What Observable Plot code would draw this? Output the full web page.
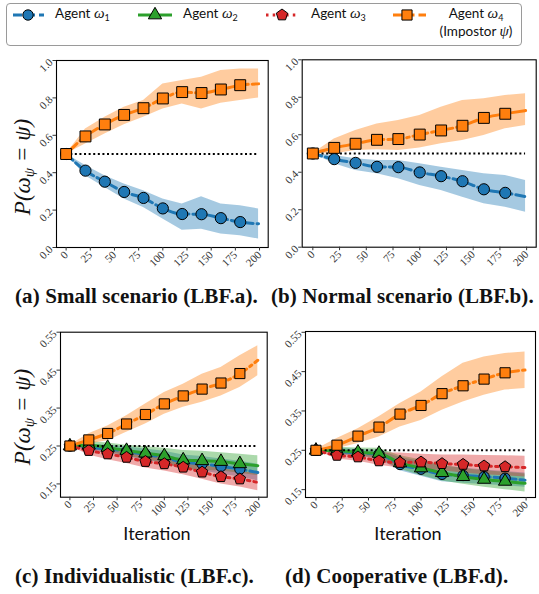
<!DOCTYPE html>
<html><head><meta charset="utf-8">
<script src="https://cdn.jsdelivr.net/npm/d3@7"></script>
<script src="https://cdn.jsdelivr.net/npm/@observablehq/plot@0.6"></script>
<style>
html,body{margin:0;padding:0;background:#fff;}
#fig{position:relative;width:539px;height:594px;overflow:hidden;background:#fff;}
.panel{position:absolute;}
.panel svg{display:block;overflow:visible;}
.cap{position:absolute;font-family:"Liberation Serif",serif;font-weight:bold;font-size:21px;letter-spacing:0.1px;line-height:22px;white-space:nowrap;color:#111;}
.xlab{position:absolute;font-family:"Lato",sans-serif;font-size:18px;line-height:18px;white-space:nowrap;transform:translate(-50%,-50%);color:#111;}
.ylab{position:absolute;font-family:"Liberation Serif",serif;font-style:italic;font-size:23px;line-height:23px;white-space:nowrap;transform:translate(-50%,-50%) rotate(-90deg);color:#111;}
.ylab sub{font-size:15px;vertical-align:-4px;line-height:0;}
#legend{position:absolute;left:6px;top:3px;width:514px;height:41px;border:1.2px solid #9a9a9a;border-radius:4px;}
#legend svg{position:absolute;left:-7px;top:-4px;}
.lt{position:absolute;font-family:"Lato",sans-serif;font-size:13.5px;line-height:13px;white-space:nowrap;color:#111;}
.lt i{font-family:"Liberation Serif",serif;font-size:15px;}
.lt sub{font-size:9px;vertical-align:-3px;line-height:0;}
</style>
</head><body>
<div id="fig"></div>
<script>
// ---------------- data ----------------
const iterations = [0, 20, 40, 60, 80, 100, 120, 140, 160, 180, 199];
const xTicks = [0, 25, 50, 75, 100, 125, 150, 175, 200];
const yTicksAB = [0, 0.2, 0.4, 0.6, 0.8, 1.0];
const yTicksCD = [0.15, 0.25, 0.35, 0.45, 0.55];
const chance = [0.5, 0.5, 0.25, 0.25];

const captions = ["(a) Small scenario (LBF.a).", "(b) Normal scenario (LBF.b).", "(c) Individualistic (LBF.c).", "(d) Cooperative (LBF.d)."];

// (a) Small scenario
const a_w1_mean = [0.50, 0.411, 0.352, 0.297, 0.265, 0.209, 0.179, 0.178, 0.157, 0.136, 0.127];
const a_w1_lo   = [0.50, 0.384, 0.321, 0.259, 0.214, 0.152, 0.092, 0.098, 0.072, 0.063, 0.045];
const a_w1_hi   = [0.50, 0.438, 0.384, 0.340, 0.304, 0.259, 0.232, 0.272, 0.232, 0.223, 0.206];
const a_w4_mean = [0.50, 0.594, 0.658, 0.709, 0.745, 0.797, 0.831, 0.826, 0.845, 0.868, 0.875];
const a_w4_lo   = [0.50, 0.554, 0.607, 0.657, 0.696, 0.741, 0.768, 0.740, 0.771, 0.786, 0.800];
const a_w4_hi   = [0.50, 0.634, 0.696, 0.750, 0.786, 0.875, 0.893, 0.911, 0.946, 0.955, 0.955];

// (b) Normal scenario
const b_w1_mean = [0.50, 0.470, 0.450, 0.429, 0.427, 0.399, 0.379, 0.352, 0.309, 0.290, 0.270];
const b_w1_lo   = [0.50, 0.445, 0.409, 0.392, 0.365, 0.329, 0.303, 0.267, 0.232, 0.213, 0.187];
const b_w1_hi   = [0.50, 0.489, 0.472, 0.463, 0.463, 0.445, 0.427, 0.409, 0.392, 0.383, 0.356];
const b_w4_mean = [0.50, 0.530, 0.552, 0.573, 0.577, 0.601, 0.623, 0.648, 0.690, 0.712, 0.729];
const b_w4_lo   = [0.50, 0.498, 0.516, 0.520, 0.516, 0.530, 0.552, 0.569, 0.596, 0.632, 0.649];
const b_w4_hi   = [0.50, 0.578, 0.623, 0.658, 0.676, 0.703, 0.747, 0.783, 0.792, 0.809, 0.819];

// (c) Individualistic
const c_w1_mean = [0.25, 0.246, 0.242, 0.236, 0.227, 0.220, 0.207, 0.203, 0.196, 0.189, 0.180];
const c_w1_lo   = [0.25, 0.238, 0.230, 0.222, 0.212, 0.204, 0.188, 0.184, 0.176, 0.168, 0.158];
const c_w1_hi   = [0.25, 0.255, 0.252, 0.248, 0.242, 0.236, 0.226, 0.222, 0.216, 0.210, 0.202];
const c_w2_mean = [0.25, 0.252, 0.246, 0.238, 0.231, 0.224, 0.213, 0.211, 0.209, 0.203, 0.198];
const c_w2_lo   = [0.25, 0.242, 0.234, 0.224, 0.214, 0.205, 0.190, 0.186, 0.184, 0.178, 0.172];
const c_w2_hi   = [0.25, 0.262, 0.258, 0.252, 0.248, 0.244, 0.238, 0.236, 0.232, 0.228, 0.224];
const c_w3_mean = [0.25, 0.238, 0.229, 0.220, 0.209, 0.203, 0.194, 0.181, 0.169, 0.163, 0.154];
const c_w3_lo   = [0.25, 0.226, 0.214, 0.204, 0.192, 0.184, 0.174, 0.162, 0.150, 0.142, 0.132];
const c_w3_hi   = [0.25, 0.248, 0.242, 0.234, 0.226, 0.220, 0.212, 0.200, 0.190, 0.184, 0.176];
const c_w4_mean = [0.25, 0.266, 0.283, 0.308, 0.333, 0.361, 0.382, 0.400, 0.416, 0.441, 0.476];
const c_w4_lo   = [0.248, 0.255, 0.264, 0.286, 0.308, 0.334, 0.352, 0.365, 0.382, 0.404, 0.435];
const c_w4_hi   = [0.252, 0.282, 0.303, 0.330, 0.361, 0.391, 0.413, 0.439, 0.457, 0.488, 0.514];

// (d) Cooperative
const d_w1_mean = [0.25, 0.247, 0.243, 0.240, 0.214, 0.202, 0.189, 0.186, 0.183, 0.179, 0.174];
const d_w1_lo   = [0.25, 0.240, 0.234, 0.228, 0.198, 0.184, 0.170, 0.166, 0.163, 0.160, 0.156];
const d_w1_hi   = [0.25, 0.256, 0.252, 0.250, 0.232, 0.222, 0.210, 0.205, 0.200, 0.196, 0.192];
const d_w2_mean = [0.25, 0.249, 0.245, 0.242, 0.218, 0.205, 0.193, 0.183, 0.176, 0.171, 0.166];
const d_w2_lo   = [0.25, 0.240, 0.236, 0.230, 0.202, 0.186, 0.172, 0.164, 0.156, 0.150, 0.144];
const d_w2_hi   = [0.25, 0.258, 0.256, 0.255, 0.236, 0.226, 0.212, 0.204, 0.198, 0.194, 0.190];
const d_w3_mean = [0.25, 0.237, 0.233, 0.223, 0.219, 0.220, 0.216, 0.214, 0.210, 0.208, 0.206];
const d_w3_lo   = [0.25, 0.228, 0.222, 0.212, 0.205, 0.203, 0.198, 0.192, 0.188, 0.185, 0.182];
const d_w3_hi   = [0.25, 0.248, 0.246, 0.244, 0.243, 0.240, 0.238, 0.238, 0.237, 0.236, 0.235];
const d_w4_mean = [0.25, 0.263, 0.286, 0.309, 0.342, 0.364, 0.394, 0.414, 0.431, 0.447, 0.454];
const d_w4_lo   = [0.248, 0.254, 0.267, 0.284, 0.309, 0.326, 0.352, 0.373, 0.390, 0.403, 0.407];
const d_w4_hi   = [0.252, 0.280, 0.305, 0.335, 0.369, 0.398, 0.437, 0.471, 0.487, 0.496, 0.500];

// ---------------- styles ----------------
const pentagon = {draw(ctx, size) {
  const R = Math.sqrt(size / 2.3776);
  for (let i = 0; i < 5; i++) {
    const a = -Math.PI / 2 + i * 2 * Math.PI / 5;
    const x = R * Math.cos(a), y = R * Math.sin(a);
    i ? ctx.lineTo(x, y) : ctx.moveTo(x, y);
  }
  ctx.closePath();
}};
const agentStyle = [
  {color: "#1f77b4", dash: "9,4", symbol: d3.symbolCircle, rk: 1.0},
  {color: "#2ca02c", dash: null, symbol: d3.symbolTriangle, rk: 0.95},
  {color: "#d62728", dash: "2.5,4.2", symbol: pentagon, rk: 1.0},
  {color: "#ff7f0e", dash: "15,4,2.5,4", symbol: d3.symbolSquare, rk: 1.1}
];

function rowsOf(mean, lo, hi) {
  return iterations.map((it, i) => ({it, mean: mean[i], lo: lo[i], hi: hi[i]}));
}

const panels = [
  {left: 0, top: 50, width: 270, height: 230, ml: 56, mr: 2.3, mt: 10, mb: 33,
   yDomain: [0, 1], yTicks: yTicksAB, fmt: ".1f", chance: chance[0], r: 5.6,
   series: [[0, a_w1_mean, a_w1_lo, a_w1_hi], [3, a_w4_mean, a_w4_lo, a_w4_hi]]},
  {left: 270, top: 50, width: 269, height: 230, ml: 31.7, mr: 3.3, mt: 9.3, mb: 33.3,
   yDomain: [0, 1], yTicks: yTicksAB, fmt: ".1f", chance: chance[1], r: 5.6,
   series: [[0, b_w1_mean, b_w1_lo, b_w1_hi], [3, b_w4_mean, b_w4_lo, b_w4_hi]]},
  {left: 0, top: 320, width: 270, height: 200, ml: 60, mr: 3.3, mt: 11.7, mb: 23.3,
   yDomain: [0.115, 0.55], yTicks: yTicksCD, fmt: ".2f", chance: chance[2], r: 5.2,
   series: [[0, c_w1_mean, c_w1_lo, c_w1_hi], [1, c_w2_mean, c_w2_lo, c_w2_hi], [2, c_w3_mean, c_w3_lo, c_w3_hi], [3, c_w4_mean, c_w4_lo, c_w4_hi]]},
  {left: 270, top: 320, width: 269, height: 200, ml: 35, mr: 4, mt: 11, mb: 23,
   yDomain: [0.13, 0.552], yTicks: yTicksCD, fmt: ".2f", chance: chance[3], r: 5.2,
   series: [[0, d_w1_mean, d_w1_lo, d_w1_hi], [1, d_w2_mean, d_w2_lo, d_w2_hi], [2, d_w3_mean, d_w3_lo, d_w3_hi], [3, d_w4_mean, d_w4_lo, d_w4_hi]]}
];

const fig = document.getElementById("fig");

panels.forEach((p) => {
  const marks = [];
  p.series.forEach(([ai, mean, lo, hi]) => {
    const st = agentStyle[ai];
    marks.push(Plot.areaY(rowsOf(mean, lo, hi), {x: "it", y1: "lo", y2: "hi", fill: st.color, fillOpacity: 0.4, curve: "linear"}));
  });
  p.series.forEach(([ai, mean, lo, hi]) => {
    const st = agentStyle[ai];
    marks.push(Plot.lineY(rowsOf(mean, lo, hi), {x: "it", y: "mean", stroke: st.color, strokeWidth: 3, strokeDasharray: st.dash, curve: "monotone-x"}));
  });
  marks.push(Plot.ruleY([{y: p.chance, x1: iterations[0], x2: iterations[iterations.length - 1]}],
    {y: "y", x1: "x1", x2: "x2", stroke: "black", strokeWidth: 2, strokeDasharray: "2,2.6"}));
  p.series.forEach(([ai, mean, lo, hi]) => {
    const st = agentStyle[ai];
    const rows = rowsOf(mean, lo, hi).slice(0, iterations.length - 1);
    marks.push(Plot.dot(rows, {x: "it", y: "mean", symbol: st.symbol, r: p.r * st.rk, fill: st.color, stroke: "black", strokeWidth: 1}));
  });
  marks.push(Plot.frame({stroke: "black", strokeWidth: 1.1}));
  marks.push(Plot.axisX({ticks: xTicks, tickFormat: d => String(d), tickRotate: -45, tickSize: 3.5, tickPadding: 2, label: null}));
  marks.push(Plot.axisY({ticks: p.yTicks, tickFormat: d3.format(p.fmt), tickRotate: -45, tickSize: 3.5, tickPadding: 2, label: null}));

  const svg = Plot.plot({
    width: p.width, height: p.height,
    marginLeft: p.ml, marginRight: p.mr, marginTop: p.mt, marginBottom: p.mb,
    x: {domain: [-9.95, 208.95]},
    y: {domain: p.yDomain},
    style: {fontFamily: "Liberation Serif, serif", fontSize: "11px", color: "#333", background: "transparent", overflow: "visible"},
    marks
  });
  const div = document.createElement("div");
  div.className = "panel";
  div.style.left = p.left + "px";
  div.style.top = p.top + "px";
  div.appendChild(svg);
  fig.appendChild(div);
});

// y labels
[[22, 167], [22, 417]].forEach(([x, y]) => {
  const d = document.createElement("div");
  d.className = "ylab";
  d.style.left = x + "px"; d.style.top = y + "px";
  d.innerHTML = "P(ω<sub>ψ</sub> = ψ)";
  fig.appendChild(d);
});
// x labels
[[157, 533], [408, 533]].forEach(([x, y]) => {
  const d = document.createElement("div");
  d.className = "xlab";
  d.style.left = x + "px"; d.style.top = y + "px";
  d.textContent = "Iteration";
  fig.appendChild(d);
});
// captions
[[15, 285], [271, 285], [15, 565], [285, 565]].forEach(([x, y], i) => {
  const d = document.createElement("div");
  d.className = "cap";
  d.style.left = x + "px"; d.style.top = y + "px";
  d.textContent = captions[i];
  fig.appendChild(d);
});

// legend
const leg = document.createElement("div");
leg.id = "legend";
fig.appendChild(leg);
const lsvg = d3.select(leg).append("svg").attr("width", 539).attr("height", 50);
const legItems = [
  {x1: 13, x2: 44, mx: 28},
  {x1: 138, x2: 172, mx: 155},
  {x1: 266, x2: 299, mx: 282},
  {x1: 393, x2: 426, mx: 407}
];
legItems.forEach((it, i) => {
  const st = agentStyle[i];
  lsvg.append("line").attr("x1", it.x1).attr("x2", it.x2).attr("y1", 15).attr("y2", 15)
    .attr("stroke", st.color).attr("stroke-width", 3).attr("stroke-dasharray", st.dash);
  const r = 5.2 * st.rk;
  lsvg.append("path").attr("transform", `translate(${it.mx},15)`)
    .attr("d", d3.symbol().type(st.symbol).size(Math.PI * r * r)())
    .attr("fill", st.color).attr("stroke", "black").attr("stroke-width", 1);
});
const legTexts = [
  {x: 48, y: 3, html: "Agent <i>ω</i><sub>1</sub>"},
  {x: 176, y: 3, html: "Agent <i>ω</i><sub>2</sub>"},
  {x: 304, y: 3, html: "Agent <i>ω</i><sub>3</sub>"},
  {y: 3, html: "Agent <i>ω</i><sub>4</sub>", center: 469},
  {y: 21, html: "(Impostor <i>ψ</i>)", center: 469}
];
legTexts.forEach(t => {
  const d = document.createElement("div");
  d.className = "lt";
  d.innerHTML = t.html;
  d.style.top = t.y + "px";
  if (t.center) { d.style.left = t.center + "px"; d.style.transform = "translateX(-50%)"; }
  else d.style.left = t.x + "px";
  leg.appendChild(d);
});
</script>
</body></html>
